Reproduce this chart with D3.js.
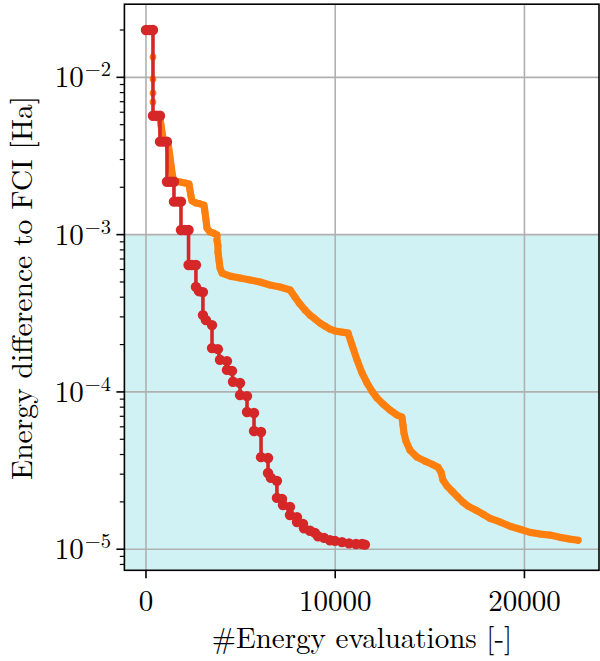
<!DOCTYPE html>
<html>
<head>
<meta charset="utf-8">
<script src="https://cdn.jsdelivr.net/npm/d3@7"></script>
<style>
  body { margin: 0; background: #fff; }
  svg { display: block; }
</style>
</head>
<body>
<svg id="chart" width="600" height="661"></svg>
<script>
// Axis ticks
const xTickValues = [0, 10000, 20000];
const xTickLabels = ["0", "10000", "20000"];
const yTickExponents = [-2, -3, -4, -5];
const chemicalAccuracy = 1e-3;

// Red run: energy evaluations and error to FCI
const redEvals = [
  0, 200, 370, 370, 555, 740, 740, 925, 1110, 1110, 1295, 1480,
  1480, 1690, 1850, 1850, 2060, 2250, 2250, 2430, 2640,
  2640, 2800, 3010, 3010, 3170, 3490, 3490, 3800, 3910, 4280,
  4280, 4545, 4600, 4970, 4970, 5340, 5340, 5710, 5710, 6080,
  6080, 6450, 6450, 6600, 6920, 6920, 7190, 7240, 7610, 7610, 7980,
  7980, 8300, 8350, 8670, 8930, 9090, 9410, 9720,
  9990, 10360, 10730, 11100, 11420, 11570
];
const redErrors = [
  0.0200, 0.0200, 0.0200, 0.00570, 0.00570, 0.00570, 0.00390, 0.00390, 0.00390,
  0.00217, 0.00217, 0.00217, 0.00162, 0.00162, 0.00162, 0.00107, 0.00107, 0.00107,
  6.41e-4, 6.41e-4, 6.41e-4, 4.65e-4, 4.37e-4, 4.31e-4, 3.08e-4, 2.86e-4, 2.66e-4,
  1.90e-4, 1.87e-4, 1.60e-4, 1.57e-4, 1.38e-4, 1.36e-4, 1.16e-4, 1.14e-4,
  9.55e-5, 9.41e-5, 7.45e-5, 7.34e-5, 5.64e-5, 5.56e-5, 3.85e-5, 3.80e-5,
  3.05e-5, 2.84e-5, 2.72e-5, 2.12e-5, 2.09e-5, 1.91e-5, 1.86e-5, 1.65e-5, 1.60e-5,
  1.49e-5, 1.45e-5, 1.36e-5, 1.31e-5, 1.27e-5, 1.21e-5, 1.18e-5, 1.14e-5,
  1.13e-5, 1.11e-5, 1.09e-5, 1.08e-5, 1.08e-5, 1.07e-5
];

// Orange run: energy evaluations and error to FCI
const orangeEvals = [
  0, 211, 370, 370, 370, 370, 370, 370, 634, 740, 793, 846, 898, 1057,
  1163, 1216, 1268, 1321, 1374, 1427, 1533, 1797, 2061, 2273, 2325, 2378, 2431,
  2643, 2854, 3065, 3118, 3171, 3224, 3383, 3594, 3752, 3752, 3805, 3805, 3858,
  3911, 4017, 4439, 4968, 5496, 6025, 6553, 7082, 7610, 7875, 8139, 8403, 8667,
  8932, 9196, 9460, 9724, 9989, 10359, 10676, 10887, 11151, 11416, 11680, 11944,
  12208, 12525, 12895, 13265, 13530, 13582, 13635, 13741, 13952, 14322, 14745,
  15115, 15432, 15591, 15696, 15908, 16172, 16489, 16753, 17018, 17440, 17810,
  18180, 18709, 19237, 19766, 20294, 20823, 21351, 21880, 22408, 22831
];
const orangeErrors = [
  0.0200, 0.0200, 0.0200, 0.01346, 0.00976, 0.00794, 0.00696, 0.00570, 0.00568,
  0.00551, 0.00497, 0.00449, 0.00411, 0.00393, 0.00382, 0.00345, 0.00311, 0.00277,
  0.00250, 0.00229, 0.00219, 0.00216, 0.00213, 0.00210, 0.00192, 0.00176, 0.00164,
  0.00159, 0.00157, 0.00154, 0.00139, 0.00124, 0.00110, 0.00104, 0.00102,
  9.95e-4, 9.25e-4, 8.47e-4, 7.75e-4, 6.90e-4, 6.14e-4, 5.70e-4, 5.45e-4, 5.30e-4,
  5.15e-4, 5.00e-4, 4.78e-4, 4.65e-4, 4.45e-4, 4.01e-4, 3.62e-4, 3.32e-4, 3.08e-4,
  2.91e-4, 2.74e-4, 2.62e-4, 2.51e-4, 2.44e-4, 2.40e-4, 2.37e-4, 1.99e-4, 1.60e-4,
  1.32e-4, 1.14e-4, 1.01e-4, 9.15e-5, 8.38e-5, 7.67e-5, 7.13e-5, 6.92e-5, 6.15e-5,
  5.47e-5, 4.86e-5, 4.26e-5, 3.85e-5, 3.63e-5, 3.47e-5, 3.32e-5, 3.09e-5, 2.75e-5,
  2.52e-5, 2.34e-5, 2.14e-5, 1.99e-5, 1.88e-5, 1.77e-5, 1.67e-5, 1.57e-5, 1.49e-5,
  1.40e-5, 1.34e-5, 1.28e-5, 1.25e-5, 1.23e-5, 1.19e-5, 1.16e-5, 1.14e-5
];
// From this point on the orange evaluations are dense enough to merge into a band
const orangeDenseFrom = 8;

const RED = "#d62728", ORANGE = "#ff7f0e", GRID = "#b0b0b0", BAND = "#d1f2f5";
const FONT = '"Latin Modern Roman", "Liberation Serif", serif';

const plot = { left: 124.4, right: 599, top: 4.2, bottom: 570.3 };

const x = d3.scaleLinear().domain([-1140, 23940]).range([plot.left, plot.right]);
const y = d3.scaleLog().domain([7.345e-6, 2.917e-2]).range([plot.bottom, plot.top]);

const svg = d3.select("#chart");
svg.append("rect").attr("width", 600).attr("height", 661).attr("fill", "#fff");

svg.append("defs").append("clipPath").attr("id", "plot-clip")
  .append("rect")
  .attr("x", plot.left).attr("y", plot.top)
  .attr("width", plot.right - plot.left).attr("height", plot.bottom - plot.top);

// Region below chemical accuracy
svg.append("rect")
  .attr("x", plot.left).attr("y", y(chemicalAccuracy))
  .attr("width", plot.right - plot.left)
  .attr("height", plot.bottom - y(chemicalAccuracy))
  .attr("fill", BAND);

// Grid
const grid = svg.append("g").attr("stroke", GRID).attr("stroke-width", 1.6);
grid.selectAll("line.gx").data(xTickValues).join("line")
  .attr("x1", d => x(d)).attr("x2", d => x(d))
  .attr("y1", plot.top).attr("y2", plot.bottom);
grid.selectAll("line.gy").data(yTickExponents).join("line")
  .attr("x1", plot.left).attr("x2", plot.right)
  .attr("y1", d => y(Math.pow(10, d))).attr("y2", d => y(Math.pow(10, d)));

const data = svg.append("g").attr("clip-path", "url(#plot-clip)");

const orangePts = orangeEvals.map((e, i) => [e, orangeErrors[i]]);
const redPts = redEvals.map((e, i) => [e, redErrors[i]]);
const line = d3.line().x(d => x(d[0])).y(d => y(d[1]));

// Orange run
data.append("path").datum(orangePts.slice(orangeDenseFrom))
  .attr("d", line).attr("fill", "none").attr("stroke", ORANGE)
  .attr("stroke-width", 7.2).attr("stroke-linejoin", "round").attr("stroke-linecap", "round");
data.append("path").datum(orangePts)
  .attr("d", line).attr("fill", "none").attr("stroke", ORANGE).attr("stroke-width", 1.6);
data.selectAll("circle.o").data(orangePts).join("circle")
  .attr("cx", d => x(d[0])).attr("cy", d => y(d[1])).attr("r", 3.4).attr("fill", ORANGE);

// Red run
data.append("path").datum(redPts)
  .attr("d", line).attr("fill", "none").attr("stroke", RED).attr("stroke-width", 3.6);
data.selectAll("circle.r").data(redPts).join("circle")
  .attr("cx", d => x(d[0])).attr("cy", d => y(d[1])).attr("r", 5.2).attr("fill", RED);

// Axes frame
svg.append("rect")
  .attr("x", plot.left).attr("y", plot.top)
  .attr("width", plot.right - plot.left).attr("height", plot.bottom - plot.top)
  .attr("fill", "none").attr("stroke", "#000").attr("stroke-width", 1.6);

// Ticks
const isDecade = d => {
  const m = d / Math.pow(10, Math.floor(Math.log10(d) + 1e-9));
  return Math.abs(m - 1) < 1e-6;
};
const ticks = svg.append("g").attr("stroke", "#000");
ticks.selectAll("line.xt").data(xTickValues).join("line")
  .attr("x1", d => x(d)).attr("x2", d => x(d))
  .attr("y1", plot.bottom).attr("y2", plot.bottom + 8).attr("stroke-width", 1.6);
ticks.selectAll("line.yt").data(y.ticks()).join("line")
  .attr("x1", plot.left)
  .attr("x2", d => isDecade(d) ? plot.left - 8 : plot.left - 4.6)
  .attr("y1", d => y(d)).attr("y2", d => y(d))
  .attr("stroke-width", d => isDecade(d) ? 1.6 : 1.2);

// X tick labels
svg.selectAll("text.xl").data(xTickValues).join("text")
  .attr("font-family", FONT)
  .attr("x", d => x(d)).attr("y", 611)
  .attr("text-anchor", "middle").attr("font-size", 29)
  .text((d, i) => xTickLabels[i]);

// Y tick labels: 10^k
const yl = svg.selectAll("text.yl").data(yTickExponents).join("text")
  .attr("font-family", FONT)
  .attr("x", 111).attr("y", d => y(Math.pow(10, d)) + 10)
  .attr("text-anchor", "end").attr("font-size", 29);
yl.append("tspan").text("10");
yl.append("tspan").attr("font-size", 20.5).attr("dy", -11).attr("dx", 1)
  .text(d => "\u2212" + Math.abs(d));

// Axis titles
svg.append("text")
  .attr("font-family", FONT)
  .attr("x", 362).attr("y", 648).attr("text-anchor", "middle").attr("font-size", 29)
  .text("#Energy evaluations [-]");
svg.append("text")
  .attr("font-family", FONT)
  .attr("transform", "translate(31.5,288) rotate(-90)")
  .attr("text-anchor", "middle").attr("font-size", 29.6)
  .text("Energy difference to FCI [Ha]");
</script>
</body>
</html>
